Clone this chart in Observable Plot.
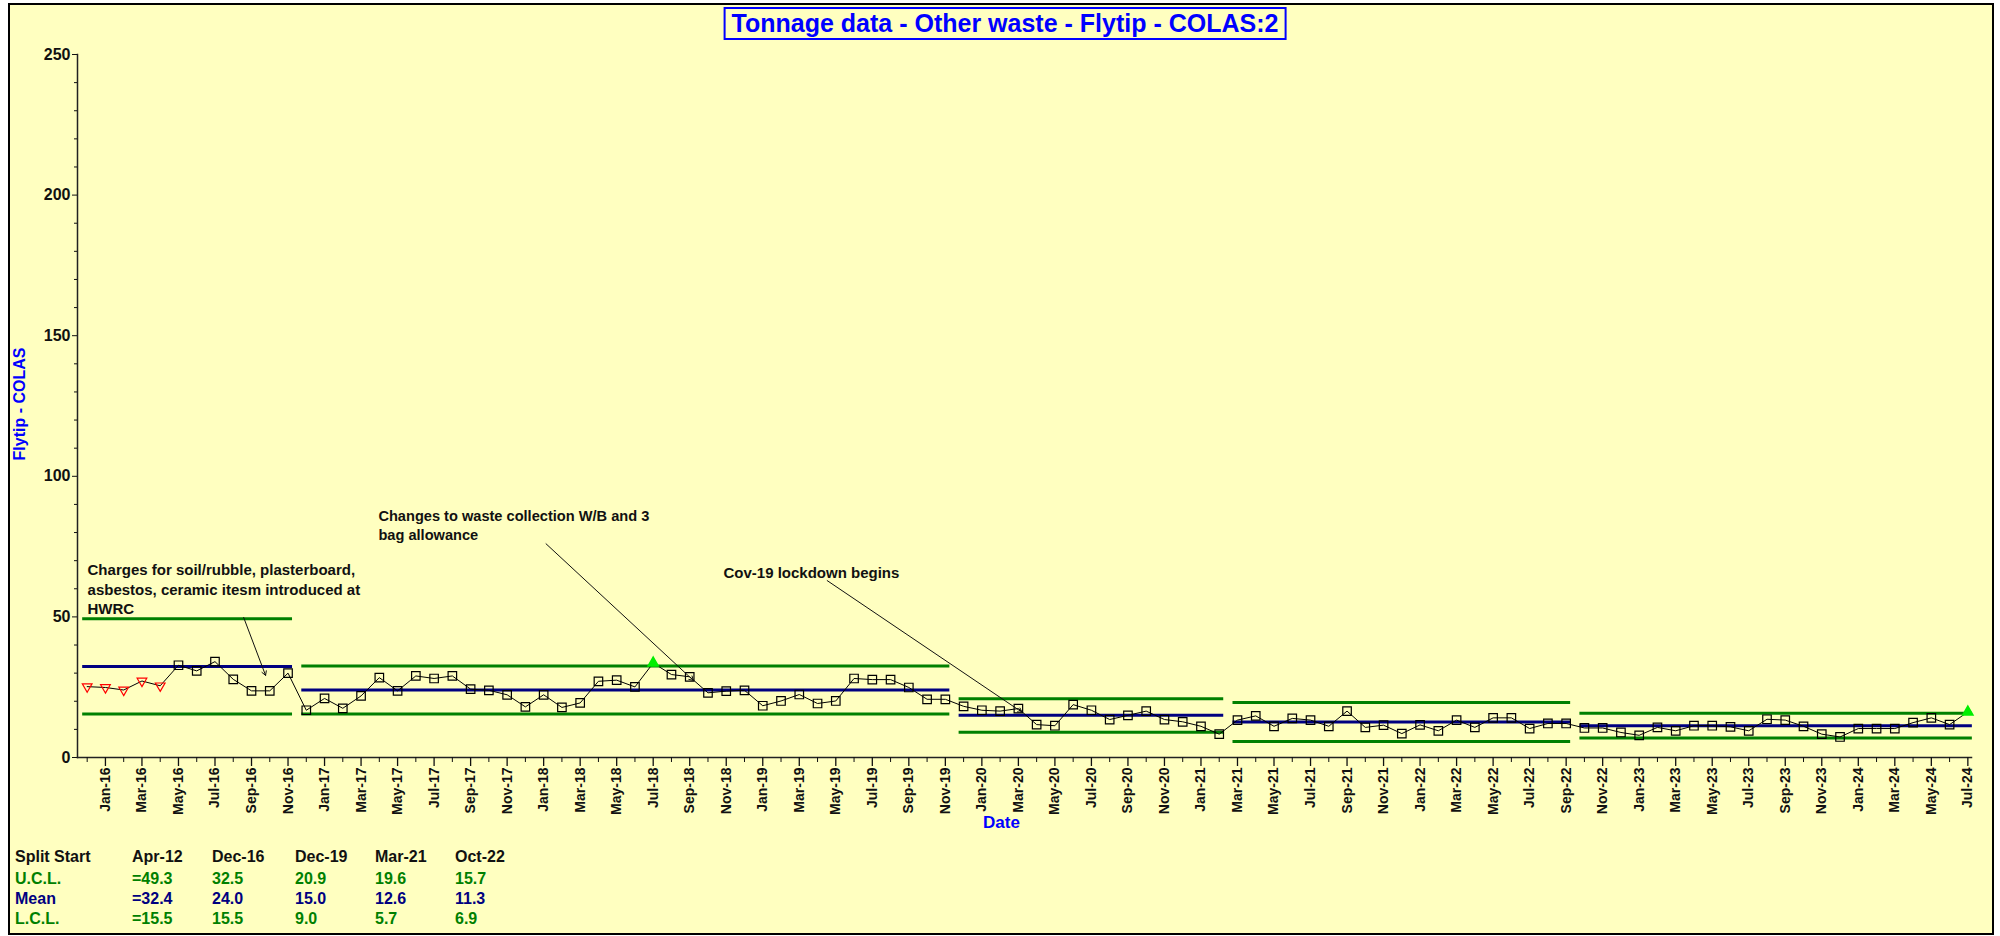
<!DOCTYPE html>
<html><head><meta charset="utf-8">
<script src="https://cdn.jsdelivr.net/npm/d3@7"></script>
<script src="https://cdn.jsdelivr.net/npm/@observablehq/plot@0.6"></script>
<style>
body{margin:0;background:#fff;font-family:"Liberation Sans",Arial,sans-serif;}
#frame{position:absolute;left:8px;top:3px;width:1986px;height:932px;border:2px solid #000;box-sizing:border-box;background:#ffffc0;}
#chart{position:absolute;left:0;top:0;}
#title{position:absolute;left:1005px;top:7px;transform:translateX(-50%);border:2px solid #0000ff;color:#0000ff;font-weight:bold;font-size:25px;line-height:29px;padding:0 6px;white-space:nowrap;}
#ylabel{position:absolute;left:20px;top:404px;transform:translate(-50%,-50%) rotate(-90deg);color:#0000ff;font-weight:bold;font-size:16px;white-space:nowrap;}
#stats{position:absolute;left:15px;top:847px;font-weight:bold;font-size:16px;}
.row{display:flex;height:20px;line-height:20px;white-space:nowrap;}
.row span{display:inline-block;width:80px}
.row span:first-child{width:117px}
.row span:nth-child(3){width:83px}
.row.head{height:22px;line-height:20px;color:#111}
.row.ucl,.row.lcl{color:#008000}
.row.mean{color:#000080}
</style></head><body>
<div id="frame"></div>
<div id="chart"></div>
<div id="title">Tonnage data - Other waste - Flytip - COLAS:2</div>
<div id="ylabel">Flytip - COLAS</div>
<div id="stats"></div>
<script>
// Month categories (Dec-15 .. Jul-24)
const months = d3.utcMonth.range(new Date(Date.UTC(2015,11,1)), new Date(Date.UTC(2024,7,1))).map(d3.utcFormat("%b-%y"));
// Monthly tonnage values
const values = [
 25.2,24.9,24.0,27.2,25.5,32.8,30.8,34.1,27.8,23.7,23.7,30.0,
 16.8,21.0,17.5,21.9,28.4,23.7,29.0,28.1,29.0,24.3,23.9,22.3,
 18.0,22.3,17.8,19.4,27.1,27.5,25.1,33.6,29.5,28.7,23.0,23.6,
 23.9,18.4,20.1,22.4,19.2,20.1,28.1,27.7,27.7,24.9,20.7,20.7,
 18.2,16.8,16.5,17.4,11.7,11.3,18.8,16.8,13.5,15.0,16.5,13.5,
 12.7,11.1,8.3,13.3,14.8,11.1,13.9,13.3,11.1,16.5,10.7,11.5,
 8.5,11.6,9.5,13.3,10.7,14.1,14.1,10.3,12.1,12.1,10.5,10.5,
 8.9,7.9,10.7,9.5,11.3,11.3,10.9,9.5,13.6,13.3,11.1,8.3,
 7.3,10.3,10.3,10.3,12.4,14.1,11.7,16.2
];
const runFlags = ["Dec-15","Jan-16","Feb-16","Mar-16","Apr-16"];
const aboveFlags = ["Jul-18","Jul-24"];
// Splits
const splitStart = ["Apr-12","Dec-16","Dec-19","Mar-21","Oct-22"];
const splitFirstShown = ["Dec-15","Dec-16","Dec-19","Mar-21","Oct-22"];
const ucl = [49.3,32.5,20.9,19.6,15.7];
const mean = [32.4,24.0,15.0,12.6,11.3];
const lcl = [15.5,15.5,9.0,5.7,6.9];
// Annotations (x in month index, y in tonnes)
const noteText = ["Charges for soil/rubble, plasterboard,\nasbestos, ceramic itesm introduced at\nHWRC","Changes to waste collection W/B and 3\nbag allowance","Cov-19 lockdown begins"];
const noteX = [0.02, 15.95, 34.85];
const noteY = [60.1, 83.0, 66.1];
const noteSize = [15, 14.6, 15];
const arrowX1 = [8.57, 25.13, 40.53];
const arrowY1 = [49.8, 76.0, 62.9];
const arrowX2 = [9.77, 33.2, 51.2];
const arrowY2 = [29.2, 27.4, 16.1];

const pts = values.map((v,i)=>({i, v, m: months[i]}));
const segs = splitFirstShown.map((m,k)=>({
  start: months.indexOf(m),
  end: k < splitFirstShown.length-1 ? months.indexOf(splitFirstShown[k+1])-1 : months.length-1,
  ucl: ucl[k], mean: mean[k], lcl: lcl[k]
}));
const notes = noteText.map((t,k)=>({t, x: noteX[k], y: noteY[k], s: noteSize[k]}));
const arrows = arrowX1.map((_,k)=>({x1: arrowX1[k], y1: arrowY1[k], x2: arrowX2[k], y2: arrowY2[k]}));
const majorTicks = months.map((m,i)=>i).filter(i=>/^(Jan|Mar|May|Jul|Sep|Nov)/.test(months[i]));
const minorTicks = months.map((m,i)=>i).filter(i=>!majorTicks.includes(i));
const yMajor = d3.range(0,251,50);
const yMinor = d3.range(0,251,10).filter(v=>v%50!==0);

const triDown = {draw(ctx, size){const y=-Math.sqrt(size/(Math.sqrt(3)*3));ctx.moveTo(0,-2*y);ctx.lineTo(-Math.sqrt(3)*y,y);ctx.lineTo(Math.sqrt(3)*y,y);ctx.closePath();}};
const GREEN="#008000", NAVY="#000080";

const chart = Plot.plot({
  width: 2000, height: 845,
  marginLeft: 77, marginRight: 29, marginTop: 54, marginBottom: 88,
  x: {type: "linear", domain: [-0.53, 103.2]},
  y: {domain: [0, 250]},
  style: {background: "transparent", fontFamily: "Liberation Sans, Arial, sans-serif", fontSize: "15px", color: "#111", overflow: "visible"},
  marks: [
    Plot.ruleY(segs, {y: "ucl", x1: "start", x2: "end", insetLeft: -4.5, insetRight: -4.5, stroke: GREEN, strokeWidth: 3}),
    Plot.ruleY(segs, {y: "lcl", x1: "start", x2: "end", insetLeft: -4.5, insetRight: -4.5, stroke: GREEN, strokeWidth: 3}),
    Plot.ruleY(segs, {y: "mean", x1: "start", x2: "end", insetLeft: -4.5, insetRight: -4.5, stroke: NAVY, strokeWidth: 3}),
    Plot.line(pts, {x: "i", y: "v", stroke: "#000", strokeWidth: 1}),
    Plot.dot(pts.filter(d=>!runFlags.includes(d.m) && !aboveFlags.includes(d.m)), {x: "i", y: "v", symbol: "square", r: 4.8, stroke: "#000", strokeWidth: 1.2, fill: "none"}),
    Plot.dot(pts.filter(d=>runFlags.includes(d.m)), {x: "i", y: "v", symbol: triDown, r: 3.6, stroke: "#ff0000", strokeWidth: 1.2, fill: "none"}),
    Plot.dot(pts.filter(d=>aboveFlags.includes(d.m)), {x: "i", y: "v", symbol: "triangle", r: 3.8, stroke: "#00ee00", fill: "#00ee00"}),
    Plot.arrow(arrows, {x1: "x1", y1: "y1", x2: "x2", y2: "y2", stroke: "#111", strokeWidth: 1, headLength: 7}),
    Plot.text(notes, {x: "x", y: "y", text: "t", fontSize: "s", textAnchor: "start", lineAnchor: "middle", lineHeight: 1.3, fontWeight: "bold", fill: "#111"}),
    Plot.frame({anchor: "left", stroke: "#222", strokeWidth: 1.5}),
    Plot.frame({anchor: "bottom", stroke: "#222", strokeWidth: 1.5}),
    Plot.axisY({ticks: yMajor, tickSize: 5, tickPadding: 2, fontSize: 16, fontWeight: "bold", label: null}),
    Plot.axisY({ticks: yMinor, tickSize: 3, tickFormat: () => "", label: null}),
    Plot.axisX({ticks: majorTicks, tickSize: 9, insetTop: -4.5, tickFormat: () => "", label: null, strokeWidth: 1.3}),
    Plot.axisX({ticks: minorTicks, tickSize: 5, insetTop: -2.5, tickFormat: () => "", label: null}),
    Plot.axisX({ticks: majorTicks, tickSize: 0, tickPadding: 10, tickRotate: -90, tickFormat: i => months[i], fontSize: 14, fontWeight: "bold", label: null}),
    Plot.text(["Date"], {frameAnchor: "bottom", dx: -23, dy: 70, fill: "#0000ff", fontSize: 17, fontWeight: "bold"})
  ]
});
document.getElementById("chart").appendChild(chart);

// Split statistics table
const fmt = (v,k) => (k===0 ? "=" : "") + v.toFixed(1);
const rows = [
  ["head", "Split Start", splitStart],
  ["ucl", "U.C.L.", ucl.map(fmt)],
  ["mean", "Mean", mean.map(fmt)],
  ["lcl", "L.C.L.", lcl.map(fmt)]
];
const stats = document.getElementById("stats");
for (const [cls, label, cells] of rows) {
  const r = document.createElement("div");
  r.className = "row " + cls;
  const s0 = document.createElement("span"); s0.textContent = label; r.appendChild(s0);
  for (const c of cells) { const s = document.createElement("span"); s.textContent = c; r.appendChild(s); }
  stats.appendChild(r);
}
</script>
</body></html>
